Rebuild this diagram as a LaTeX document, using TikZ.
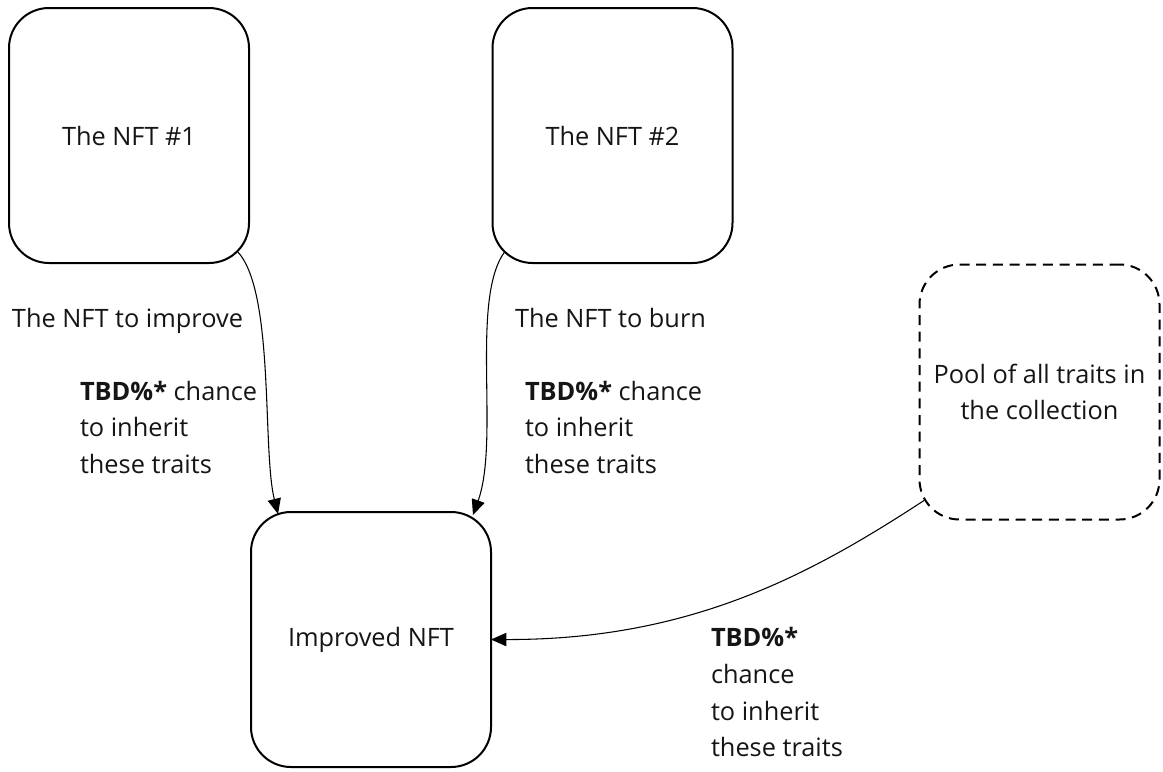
\documentclass[tikz,border=0pt]{standalone}
\usepackage{fontspec}
\setmainfont{Open Sans}
\usetikzlibrary{arrows.meta}
\definecolor{ink}{HTML}{151515}
\tikzset{
  box/.style={draw=black, line width=1.5pt, rounded corners=30pt,
    minimum width=180pt, minimum height=191.25pt, inner sep=0pt, outer sep=0pt,
    align=center, font=\fontsize{19}{27.5}\selectfont, text=ink},
  poolbox/.style={box, dash pattern=on 7.5pt off 5pt},
  lbl/.style={inner sep=0pt, outer sep=0pt, font=\fontsize{19}{27.5}\selectfont, text=ink},
  conn/.style={draw=black, line width=0.8pt, -{Triangle[length=11.5pt,width=10pt]}}
}
\begin{document}
\begin{tikzpicture}[x=0.75pt,y=-0.75pt]
\fill[white] (0,0) rectangle (1163,771);
\useasboundingbox (0,0) rectangle (1163,771);

\node[box] (n1) at (129,135.5) {The NFT \#1};
\node[box] (n2) at (612.5,135.5) {The NFT \#2};
\node[box] (imp) at (371,639.5) {Improved NFT};
\node[poolbox] (pool) at (1039.5,392) {Pool of all traits in\\the collection};

\node[lbl, anchor=base west] (l1) at (12,327) {The NFT to improve};
\node[lbl, anchor=north west, align=left] (t1) at (80,381) {\textbf{TBD\%*} chance\\to inherit\\these traits};
\node[lbl, anchor=base west] (l2) at (515,327) {The NFT to burn};
\node[lbl, anchor=north west, align=left] (t2) at (525,381) {\textbf{TBD\%*} chance\\to inherit\\these traits};
\node[lbl, anchor=north west, align=left] (t3) at (711,627.5) {\textbf{TBD\%*}\\chance\\to inherit\\these traits};

\draw[conn] ([shift={(-12,-12)}]n1.south east) .. controls (275,290) and (262,450) .. ([shift={(27,2)}]imp.north west);
\draw[conn] ([shift={(12,-11)}]n2.south west) .. controls (470,300) and (500,440) .. ([shift={(-18,3)}]imp.north east);
\draw[conn] ([shift={(4.5,-19)}]pool.south west) .. controls (810,575) and (690,640) .. (imp.east);
\end{tikzpicture}
\end{document}
